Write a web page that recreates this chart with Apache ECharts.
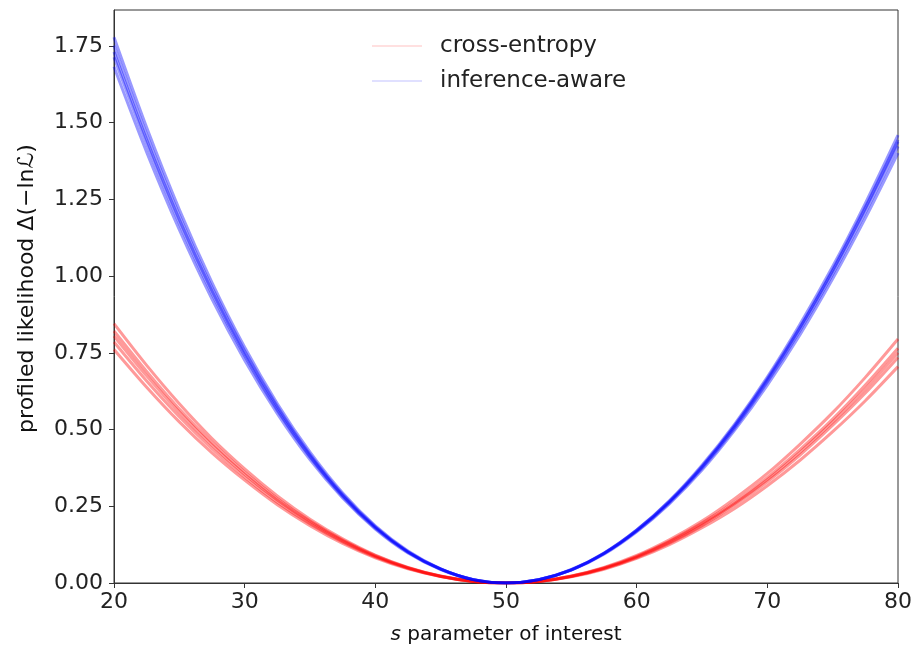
<!DOCTYPE html>
<html>
<head>
<meta charset="utf-8">
<script src="https://cdn.jsdelivr.net/npm/echarts@6/dist/echarts.min.js"></script>
<style>html,body{margin:0;padding:0;background:#fff;}#c{width:915px;height:650px;}</style>
</head>
<body>
<div id="c"></div>
<script>
// s values (parameter of interest)
const sValues = [20,22.5,25,27.5,30,32.5,35,37.5,40,42.5,45,47.5,50,52.5,55,57.5,60,62.5,65,67.5,70,72.5,75,77.5,80];
// cross-entropy profiled likelihood curves
const ce1 = [0.761,0.638,0.525,0.424,0.335,0.255,0.187,0.129,0.082,0.046,0.021,0.005,0,0.006,0.023,0.051,0.090,0.141,0.202,0.275,0.357,0.452,0.555,0.670,0.795];
const ce2 = [0.785,0.658,0.542,0.438,0.345,0.263,0.193,0.134,0.085,0.048,0.021,0.005,0,0.005,0.020,0.045,0.080,0.125,0.180,0.243,0.317,0.400,0.493,0.594,0.705];
const ce3 = [0.805,0.675,0.556,0.449,0.354,0.270,0.198,0.137,0.087,0.049,0.022,0.005,0,0.006,0.022,0.049,0.087,0.136,0.195,0.264,0.344,0.435,0.534,0.645,0.765];
const ce4 = [0.821,0.689,0.567,0.458,0.361,0.275,0.202,0.140,0.089,0.050,0.022,0.006,0,0.005,0.021,0.047,0.083,0.130,0.187,0.254,0.330,0.417,0.514,0.619,0.735];
const ce5 = [0.845,0.709,0.584,0.471,0.372,0.284,0.208,0.144,0.091,0.051,0.023,0.006,0,0.005,0.022,0.048,0.085,0.133,0.191,0.259,0.337,0.426,0.524,0.632,0.750];
// inference-aware profiled likelihood curves
const ia1 = [1.682,1.404,1.151,0.925,0.726,0.552,0.402,0.277,0.176,0.098,0.044,0.011,0,0.011,0.044,0.098,0.173,0.268,0.384,0.518,0.671,0.843,1.031,1.237,1.459];
const ia2 = [1.713,1.430,1.172,0.942,0.740,0.562,0.410,0.282,0.179,0.100,0.045,0.011,0,0.011,0.042,0.094,0.167,0.258,0.368,0.498,0.645,0.809,0.991,1.189,1.401];
const ia3 = [1.730,1.444,1.184,0.952,0.747,0.568,0.414,0.285,0.181,0.101,0.045,0.011,0,0.011,0.043,0.096,0.171,0.264,0.378,0.511,0.661,0.830,1.016,1.219,1.437];
const ia4 = [1.751,1.461,1.198,0.963,0.756,0.575,0.419,0.288,0.183,0.102,0.046,0.011,0,0.011,0.043,0.096,0.169,0.262,0.374,0.505,0.655,0.822,1.006,1.207,1.423];
const ia5 = [1.778,1.484,1.217,0.979,0.768,0.584,0.426,0.293,0.186,0.104,0.046,0.011,0,0.011,0.043,0.097,0.172,0.266,0.380,0.513,0.665,0.834,1.021,1.225,1.444];
const yTicks = [0,0.25,0.5,0.75,1.0,1.25,1.5,1.75];
const xTicks = [20,30,40,50,60,70,80];

const ceCurves = [ce1,ce2,ce3,ce4,ce5];
const iaCurves = [ia1,ia2,ia3,ia4,ia5];

function mk(name, arr, color){
  return {
    name: name, type: 'line', symbol: 'none', smooth: 0.3,
    data: sValues.map((s,i)=>[s, arr[i]]),
    lineStyle: {color: color, width: 3, opacity: 0.4},
    itemStyle: {color: color, opacity: 0.4},
    emphasis: {disabled: true}, silent: true, animation: false
  };
}
const series = [];
ceCurves.forEach(a=>series.push(mk('cross-entropy', a, '#ff0000')));
iaCurves.forEach(a=>series.push(mk('inference-aware', a, '#0000ff')));

const font = 'DejaVu Sans';
const chart = echarts.init(document.getElementById('c'));
chart.setOption({
  animation: false,
  backgroundColor: '#fff',
  grid: {left: 114, right: 15, top: 10, bottom: 65, show: true, borderColor: '#333', borderWidth: 1, backgroundColor: 'transparent'},
  legend: {
    orient: 'vertical', left: 367, top: 27,
    itemWidth: 50, itemHeight: 2, itemGap: 7,
    data: [
      {name: 'cross-entropy', icon: 'rect', itemStyle: {color: 'rgba(255,0,0,0.3)'}},
      {name: 'inference-aware', icon: 'rect', itemStyle: {color: 'rgba(0,0,255,0.3)'}}
    ],
    textStyle: {fontFamily: font, fontSize: 23, color: '#222', lineHeight: 28, padding: [0,0,0,13]},
    selectedMode: false
  },
  xAxis: {
    type: 'value', min: 20, max: 80, interval: 10,
    name: '{i|s} parameter of interest', nameLocation: 'middle', nameGap: 42,
    nameTextStyle: {fontFamily: font, fontSize: 20, color: '#111', rich: {i: {fontStyle: 'italic', fontFamily: font, fontSize: 20, color: '#111'}}},
    axisLine: {show: true, lineStyle: {color: '#333', width: 1}},
    axisTick: {show: true, length: 5, lineStyle: {color: '#333'}, customValues: xTicks},
    axisLabel: {fontFamily: font, fontSize: 22, color: '#222', margin: 8, customValues: xTicks},
    splitLine: {show: false}
  },
  yAxis: {
    type: 'value', min: 0, max: 1.867,
    name: 'profiled likelihood Δ(−lnℒ)', nameLocation: 'middle', nameGap: 76, nameRotate: 90,
    nameTextStyle: {fontFamily: font, fontSize: 22, color: '#111', padding: [0,0,0,16]},
    axisLine: {show: true, lineStyle: {color: '#333', width: 1}},
    axisTick: {show: true, length: 5, lineStyle: {color: '#333'}, customValues: yTicks},
    axisLabel: {fontFamily: font, fontSize: 22, color: '#222', margin: 11, customValues: yTicks, formatter: v => v.toFixed(2)},
    splitLine: {show: false}
  },
  series: series
});
</script>
</body>
</html>
